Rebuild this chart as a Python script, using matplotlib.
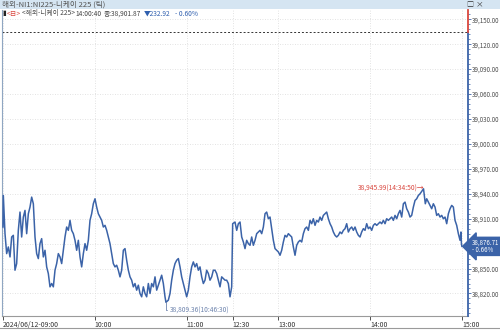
import matplotlib
matplotlib.use("Agg")
import matplotlib.pyplot as plt
from matplotlib.lines import Line2D
from matplotlib.patches import Rectangle
from matplotlib.ticker import FuncFormatter, MultipleLocator

plt.rcParams['font.family'] = ['Noto Sans CJK KR', 'DejaVu Sans']

# trading minutes since 09:00 (lunch break 11:30-12:30 squeezed out) and Nikkei 225 ticks
minutes = [
    0, 0.22, 1.31, 2.4, 3.49, 4.58, 5.67, 6.75, 7.84, 8.93, 10.02, 11.11, 12.2, 13.29, 14.38,
    15.47, 16.56, 17.65, 18.74, 19.83, 20.92, 22.0, 23.09, 24.18, 25.27, 26.36, 27.45, 28.54,
    29.63, 30.72, 31.81, 32.9, 33.99, 35.08, 36.17, 37.26, 38.35, 39.43, 40.52, 41.61, 42.7,
    43.79, 44.88, 45.97, 47.06, 48.15, 49.24, 50.33, 51.42, 52.51, 53.6, 54.68, 55.77, 56.86,
    57.95, 59.04, 60.13, 61.22, 62.31, 63.4, 64.49, 65.58, 66.67, 67.76, 68.85, 69.93, 71.02,
    72.11, 73.2, 74.29, 75.38, 76.47, 77.56, 78.65, 79.74, 80.83, 81.92, 83.01, 84.1, 85.18,
    86.27, 87.36, 88.45, 89.54, 90.63, 91.72, 92.81, 93.9, 94.99, 96.08, 97.17, 98.26, 99.35,
    100.44, 101.53, 102.61, 103.7, 104.79, 105.88, 106.5, 108.06, 109.15, 110.24, 111.33,
    112.42, 113.51, 114.6, 115.69, 116.78, 117.86, 118.95, 120.04, 121.13, 122.22, 123.31,
    124.4, 125.49, 126.58, 127.67, 128.76, 129.85, 130.94, 132.03, 133.11, 134.2, 135.29,
    136.38, 137.47, 138.56, 139.65, 140.74, 141.83, 142.92, 144.01, 145.1, 146.19, 147.28,
    148.37, 149.46,
    150.1, 151.64, 152.73, 153.82, 154.91, 156.0, 157.08, 158.17, 159.26, 160.35, 161.44,
    162.53, 163.62, 164.71, 165.8, 166.89, 167.98, 169.07, 170.16, 171.25, 172.33, 173.42,
    174.51, 175.6, 176.69, 177.78, 178.87, 179.96, 181.05, 182.14, 183.23, 184.32, 185.41,
    186.5, 187.58, 188.67, 189.76, 190.85, 191.94, 193.03, 194.12, 195.21, 196.3, 197.39,
    198.48, 199.57, 200.66, 201.75, 202.83, 203.92, 205.01, 206.1, 207.19, 208.28, 209.37,
    210.46, 211.55, 212.64, 213.73, 214.82, 215.91, 217.0, 218.08, 219.17, 220.26, 221.35,
    222.44, 223.53, 224.62, 225.71, 226.8, 227.89, 228.98, 230.07, 231.16, 232.25, 233.33,
    234.42, 235.51, 236.6, 237.69, 238.78, 239.87, 240.96, 242.05, 243.14, 244.23, 245.32,
    246.41, 247.5, 248.58, 249.67, 250.76, 251.85, 252.94, 254.03, 255.12, 256.21, 257.3,
    258.39, 259.48, 260.57, 261.66, 262.75, 263.83, 264.92, 266.01, 267.1, 268.19, 269.28,
    270.37, 271.46, 272.55, 274.83, 276.0, 276.91, 278.0, 279.08, 280.17, 281.26, 282.35,
    283.44, 284.53, 285.62, 286.71, 287.8, 288.89, 289.98, 291.07, 292.16, 293.25, 294.33,
    295.42, 296.51, 297.6, 298.69, 299.3, 299.6, 299.9,
]
prices = [
    38900, 38938, 38892, 38868, 38876, 38864, 38888, 38890, 38848, 38856, 38896, 38918, 38888,
    38912, 38920, 38892, 38916, 38924, 38936, 38928, 38888, 38868, 38862, 38880, 38886, 38864,
    38872, 38852, 38844, 38828, 38832, 38828, 38848, 38856, 38868, 38864, 38856, 38872, 38888,
    38900, 38896, 38908, 38896, 38892, 38884, 38872, 38884, 38864, 38852, 38868, 38880, 38872,
    38884, 38908, 38916, 38928, 38934, 38924, 38916, 38912, 38908, 38900, 38902, 38896, 38888,
    38880, 38868, 38856, 38852, 38854, 38848, 38840, 38848, 38872, 38874, 38860, 38848, 38840,
    38836, 38828, 38832, 38824, 38830, 38820, 38816, 38828, 38820, 38816, 38832, 38820, 38832,
    38828, 38840, 38824, 38830, 38836, 38842, 38832, 38816, 38809.36, 38812, 38820, 38836,
    38848, 38856, 38860, 38862, 38852, 38840, 38832, 38824, 38816, 38824, 38840, 38852, 38858,
    38852, 38856, 38848, 38852, 38840, 38832, 38836, 38848, 38844, 38836, 38840, 38848, 38848,
    38844, 38836, 38828, 38840, 38838, 38836, 38836, 38832, 38816, 38828,
    38904, 38906, 38896, 38904, 38906, 38888, 38882, 38874, 38884, 38880, 38878, 38888, 38878,
    38884, 38892, 38894, 38896, 38892, 38900, 38916, 38918, 38910, 38912, 38898, 38884, 38874,
    38872, 38870, 38866, 38872, 38882, 38890, 38888, 38892, 38890, 38888, 38876, 38866, 38878,
    38882, 38884, 38882, 38892, 38898, 38900, 38896, 38908, 38904, 38910, 38902, 38908, 38906,
    38912, 38908, 38914, 38916, 38918, 38910, 38904, 38900, 38894, 38890, 38888, 38890, 38894,
    38892, 38896, 38898, 38904, 38894, 38898, 38900, 38896, 38900, 38894, 38890, 38888, 38894,
    38898, 38896, 38904, 38898, 38900, 38896, 38902, 38904, 38902, 38904, 38906, 38904, 38908,
    38904, 38910, 38908, 38910, 38912, 38908, 38914, 38910, 38916, 38920, 38912, 38928, 38930,
    38922, 38918, 38912, 38914, 38924, 38932, 38934, 38938, 38940, 38945.99, 38928, 38934,
    38930, 38926, 38922, 38928, 38924, 38914, 38916, 38912, 38914, 38910, 38912, 38904, 38916,
    38922, 38926, 38924, 38908, 38902, 38892, 38884, 38894, 38880, 38876.71,
]

prev_close = 39134.79
last_price = 38876.71
last_change = "- 0.66%"
low_point = (106.5, 38809.36, "10:46:30")
high_point = (274.83, 38945.99, "14:34:50")

ytick_values = list(range(38820, 39151, 30))
xtick_pos = [0, 60, 120, 150, 180, 240, 300]
xtick_labels = ["2024/06/12-09:00", "10:00", "11:00", "12:30", "13:00", "14:00", "15:00"]

title_text = "해외-NI1:NI225-니케이 225 (틱)"
info_parts = [
    ("▮", "#222222", 0),
    ("<日>", "#d9463e", 1),
    ("<해외-니케이 225>", "#444444", 1),
    ("14:00:40", "#444444", 1),
    ("종:38,901.87", "#444444", 2),
    ("▼232.92", "#2f5fae", 3),
    ("- 0.60%", "#2f5fae", 4),
]

BLUE = "#3b63a8"
RED = "#d9463e"
W, H = 500, 330

fig = plt.figure(figsize=(5, 3.3), dpi=100)
fig.patch.set_facecolor("white")

# title bar
fig.patches.append(Rectangle((0, 1 - 9 / H), 1, 9 / H, transform=fig.transFigure,
                             facecolor="#d5e5f2", edgecolor="none", zorder=0))
fig.text(2 / W, 1 - 4.8 / H, title_text, fontsize=5.5, color="#555555", va="center")
fig.text(466 / W, 1 - 4.8 / H, "□", fontsize=5, color="#333333", va="center")
fig.text(476 / W, 1 - 4.8 / H, "×", fontsize=5.5, color="#333333", va="center")

ax = fig.add_axes([2 / W, 14 / H, 466 / W, 306 / H])
ax.set_xlim(-0.65, 303.9)
ax.set_ylim(38792.9, 39161.2)

ax.plot(minutes, prices, color=BLUE, lw=1.1, zorder=3)
ax.axhline(prev_close, color="#333333", lw=0.7, ls=(0, (2, 2)), zorder=2)

# grid
ax.set_yticks(ytick_values)
ax.set_xticks(xtick_pos)
ax.set_xticklabels(xtick_labels)
ax.grid(color="#d9d9d9", lw=0.6, ls=(0, (1, 2)))

for s in ["top", "right"]:
    ax.spines[s].set_visible(False)
ax.spines["left"].set_color("#8fa6c2")
ax.spines["left"].set_linewidth(0.8)
ax.spines["bottom"].set_color("#9a9a9a")
ax.spines["bottom"].set_linewidth(0.8)


def price_label(v, p):
    # the label under the current-price tag is hidden, as in the HTS chart
    if abs(v - last_price) < 15:
        return ""
    return format(v, ",.2f")


ax.yaxis.tick_right()
ax.yaxis.set_major_formatter(FuncFormatter(price_label))
ax.yaxis.set_minor_locator(MultipleLocator(6))
ax.tick_params(axis="y", which="major", labelsize=4.5, labelcolor="#4a4a4a", color=BLUE,
               length=2, width=0.6, pad=0.8)
ax.tick_params(axis="y", which="minor", length=1.3, width=0.5, color=BLUE)
ax.tick_params(axis="x", labelsize=5, colors="#333333", length=3, width=0.6, pad=0.5)
for lbl in ax.get_xticklabels():
    lbl.set_ha("left")

# right axis line: red above previous close, blue below
yt = ax.get_yaxis_transform()
ax.plot([1, 1], [ax.get_ylim()[0], prev_close], color=BLUE, lw=1.3, transform=yt, clip_on=False, zorder=5)
ax.plot([1, 1], [prev_close, ax.get_ylim()[1]], color=RED, lw=1.3, transform=yt, clip_on=False, zorder=5)

# info line, pieces chained one after another
prev = None
for txt, col, gap in info_parts:
    if prev is None:
        prev = fig.text(2 / W, 1 - 13.5 / H, txt, fontsize=4.8, color=col, va="center")
    else:
        prev = ax.annotate(txt, xy=(1, 0.5), xycoords=prev, xytext=(gap, 0),
                           textcoords="offset pixels", fontsize=4.8, color=col,
                           ha="left", va="center", annotation_clip=False)

# low / high markers
lx, ly, lt = low_point
ax.annotate(f"{ly:,.2f}({lt})", xy=(lx, ly), xytext=(4, -8), textcoords="offset pixels",
            fontsize=4.8, color="#6d83ad", ha="left", va="center",
            arrowprops=dict(arrowstyle="-", color="#6d83ad", lw=0.6, shrinkA=0, shrinkB=0,
                            connectionstyle="angle,angleA=0,angleB=90,rad=0"))
hx, hy, ht = high_point
ax.annotate(f"{hy:,.2f}({ht})→", xy=(hx, hy), xytext=(1, 0), textcoords="offset pixels",
            fontsize=4.8, color=RED, ha="right", va="center")

# current price tag
ax.text(1 + 4 / 466, last_price, f"{last_price:,.2f}\n{last_change}", transform=yt,
        fontsize=4.4, color="white", ha="left", va="center", linespacing=0.95, zorder=6,
        bbox=dict(boxstyle="larrow,pad=0.2", fc=BLUE, ec=BLUE))

# bottom frame line
fig.add_artist(Line2D([0, 1], [2 / H, 2 / H], color="#9a9a9a", lw=0.8))

fig.savefig("out.png", dpi=100)
